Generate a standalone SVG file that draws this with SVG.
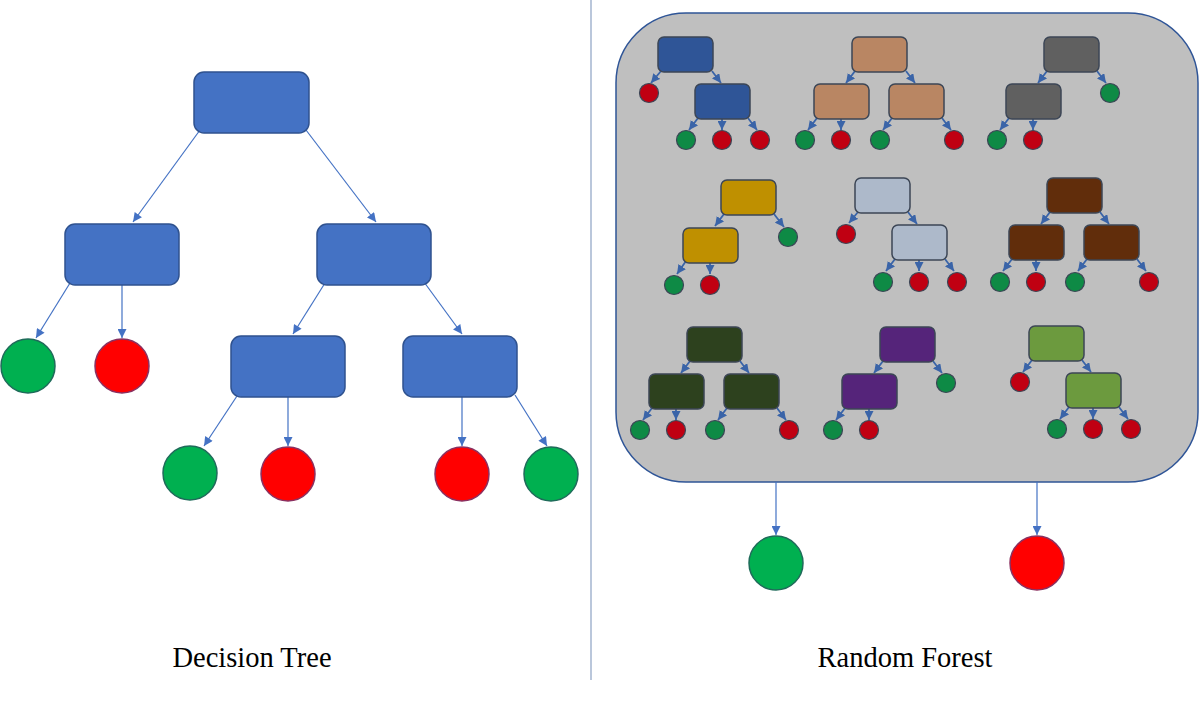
<svg xmlns="http://www.w3.org/2000/svg" width="1200" height="715" viewBox="0 0 1200 715">
<style>
.big{fill:#4472C4;stroke:#2F528F;stroke-width:1.5}
.gleaf{fill:#00B050;stroke:#1F6B5A;stroke-width:1.5}
.rleaf{fill:#FF0000;stroke:#8B3060;stroke-width:1.5}
.ln{stroke:#4472C4;stroke-width:1.2;fill:none}
.sl{stroke:#3A64A8;stroke-width:1.8;fill:none}
.sr{stroke:#3C4656;stroke-width:1.5}
.sg{fill:#0E8A45;stroke:#3C4656;stroke-width:1.2}
.sred{fill:#C00012;stroke:#3C4656;stroke-width:1.2}
.lbl{font-family:"Liberation Serif","Times New Roman",serif;font-size:28.5px;fill:#000;text-anchor:middle}
</style>
<defs>
<marker id="ah" viewBox="0 0 10 10" refX="10" refY="5" markerWidth="10" markerHeight="9" markerUnits="userSpaceOnUse" orient="auto"><path d="M0,0 L10,5 L0,10 z" fill="#4472C4"/></marker>
<marker id="as" viewBox="0 0 10 10" refX="10" refY="5" markerWidth="9" markerHeight="9" markerUnits="userSpaceOnUse" orient="auto"><path d="M0,0 L10,5 L0,10 z" fill="#3A64A8"/></marker>
</defs>
<rect width="1200" height="715" fill="#fff"/>
<line x1="591" y1="0" x2="591" y2="680" stroke="#A3B5CF" stroke-width="1.5"/>

<g id="forest-box"><rect x="616" y="13" width="582" height="469" rx="70" fill="#BFBFBF" stroke="#2F5597" stroke-width="1.5"/></g>

<g id="connectors">
<g marker-end="url(#ah)" class="ln">
<line x1="200" y1="130" x2="133" y2="222"/>
<line x1="306" y1="130" x2="376" y2="222"/>
<line x1="70" y1="283" x2="36" y2="338"/>
<line x1="122" y1="285" x2="122" y2="338"/>
<line x1="325" y1="283" x2="293" y2="334"/>
<line x1="424" y1="282" x2="462" y2="334"/>
<line x1="237" y1="396" x2="204" y2="446"/>
<line x1="288" y1="397" x2="288" y2="446"/>
<line x1="462" y1="397" x2="462" y2="446"/>
<line x1="515" y1="395" x2="547" y2="446"/>
<line x1="776" y1="482" x2="776" y2="535"/>
<line x1="1037" y1="482" x2="1037" y2="535"/>
</g>
<g marker-end="url(#as)" class="sl">
<line x1="661" y1="71" x2="651" y2="83"/><line x1="712" y1="71" x2="721" y2="83"/>
<line x1="698" y1="118" x2="689" y2="130"/><line x1="722" y1="119" x2="722" y2="130"/><line x1="748" y1="118" x2="757" y2="130"/>
<line x1="855" y1="71" x2="846" y2="83"/><line x1="906" y1="71" x2="915" y2="83"/>
<line x1="817" y1="118" x2="808" y2="130"/><line x1="841" y1="119" x2="841" y2="130"/>
<line x1="892" y1="118" x2="883" y2="130"/><line x1="942" y1="118" x2="951" y2="130"/>
<line x1="1047" y1="71" x2="1038" y2="83"/><line x1="1097" y1="71" x2="1106" y2="83"/>
<line x1="1009" y1="118" x2="1000" y2="130"/><line x1="1033" y1="119" x2="1033" y2="130"/>
<line x1="724" y1="214" x2="715" y2="226"/><line x1="774" y1="214" x2="784" y2="227"/>
<line x1="686" y1="261" x2="677" y2="274"/><line x1="710" y1="262" x2="710" y2="274"/>
<line x1="858" y1="212" x2="849" y2="223"/><line x1="908" y1="212" x2="917" y2="224"/>
<line x1="895" y1="259" x2="886" y2="271"/><line x1="919" y1="260" x2="919" y2="271"/><line x1="945" y1="259" x2="954" y2="271"/>
<line x1="1050" y1="212" x2="1041" y2="224"/><line x1="1100" y1="212" x2="1109" y2="224"/>
<line x1="1012" y1="259" x2="1003" y2="271"/><line x1="1036" y1="260" x2="1036" y2="271"/>
<line x1="1087" y1="259" x2="1078" y2="271"/><line x1="1137" y1="259" x2="1146" y2="271"/>
<line x1="690" y1="361" x2="681" y2="373"/><line x1="740" y1="361" x2="749" y2="373"/>
<line x1="652" y1="408" x2="643" y2="420"/><line x1="676" y1="409" x2="676" y2="420"/>
<line x1="727" y1="408" x2="718" y2="420"/><line x1="777" y1="408" x2="786" y2="420"/>
<line x1="883" y1="361" x2="874" y2="373"/><line x1="933" y1="361" x2="942" y2="373"/>
<line x1="845" y1="408" x2="836" y2="420"/><line x1="869" y1="409" x2="869" y2="420"/>
<line x1="1032" y1="360" x2="1023" y2="372"/><line x1="1082" y1="360" x2="1091" y2="372"/>
<line x1="1069" y1="407" x2="1060" y2="419"/><line x1="1093" y1="408" x2="1093" y2="419"/><line x1="1119" y1="407" x2="1128" y2="419"/>
</g>
</g>

<g id="decision-tree">
<g id="dt-root"><rect class="big" x="194" y="72" width="115" height="61" rx="10"/></g>
<g id="dt-l1a"><rect class="big" x="65" y="224" width="114" height="61" rx="10"/></g>
<g id="dt-l1b"><rect class="big" x="317" y="224" width="114" height="61" rx="10"/></g>
<g id="dt-l2a"><rect class="big" x="231" y="336" width="114" height="61" rx="10"/></g>
<g id="dt-l2b"><rect class="big" x="403" y="336" width="114" height="61" rx="10"/></g>
<g id="dt-leaf1"><circle class="gleaf" cx="28" cy="366" r="27"/></g>
<g id="dt-leaf2"><circle class="rleaf" cx="122" cy="366" r="27"/></g>
<g id="dt-leaf3"><circle class="gleaf" cx="190" cy="473" r="27"/></g>
<g id="dt-leaf4"><circle class="rleaf" cx="288" cy="474" r="27"/></g>
<g id="dt-leaf5"><circle class="rleaf" cx="462" cy="474" r="27"/></g>
<g id="dt-leaf6"><circle class="gleaf" cx="551" cy="474" r="27"/></g>
</g>

<g id="rf-outputs">
<g id="rf-out-green"><circle class="gleaf" cx="776" cy="563" r="27"/></g>
<g id="rf-out-red"><circle class="rleaf" cx="1037" cy="563" r="27"/></g>
</g>

<g id="tree-a">
<rect class="sr" fill="#2F5597" x="658" y="37" width="55" height="35" rx="6"/>
<rect class="sr" fill="#2F5597" x="695" y="84" width="55" height="35" rx="6"/>
<circle class="sred" cx="649" cy="93" r="9.5"/>
<circle class="sg" cx="686" cy="140" r="9.5"/><circle class="sred" cx="722" cy="140" r="9.5"/><circle class="sred" cx="760" cy="140" r="9.5"/>
</g>
<g id="tree-b">
<rect class="sr" fill="#B98663" x="852" y="37" width="55" height="35" rx="6"/>
<rect class="sr" fill="#B98663" x="814" y="84" width="55" height="35" rx="6"/>
<rect class="sr" fill="#B98663" x="889" y="84" width="55" height="35" rx="6"/>
<circle class="sg" cx="805" cy="140" r="9.5"/><circle class="sred" cx="841" cy="140" r="9.5"/>
<circle class="sg" cx="880" cy="140" r="9.5"/><circle class="sred" cx="954" cy="140" r="9.5"/>
</g>
<g id="tree-c">
<rect class="sr" fill="#606060" x="1044" y="37" width="55" height="35" rx="6"/>
<rect class="sr" fill="#606060" x="1006" y="84" width="55" height="35" rx="6"/>
<circle class="sg" cx="1110" cy="93" r="9.5"/>
<circle class="sg" cx="997" cy="140" r="9.5"/><circle class="sred" cx="1033" cy="140" r="9.5"/>
</g>
<g id="tree-d">
<rect class="sr" fill="#BF9000" x="721" y="180" width="55" height="35" rx="6"/>
<rect class="sr" fill="#BF9000" x="683" y="228" width="55" height="35" rx="6"/>
<circle class="sg" cx="788" cy="237" r="9.5"/>
<circle class="sg" cx="674" cy="285" r="9.5"/><circle class="sred" cx="710" cy="285" r="9.5"/>
</g>
<g id="tree-e">
<rect class="sr" fill="#ADB9CA" x="855" y="178" width="55" height="35" rx="6"/>
<rect class="sr" fill="#ADB9CA" x="892" y="225" width="55" height="35" rx="6"/>
<circle class="sred" cx="846" cy="234" r="9.5"/>
<circle class="sg" cx="883" cy="282" r="9.5"/><circle class="sred" cx="919" cy="282" r="9.5"/><circle class="sred" cx="957" cy="282" r="9.5"/>
</g>
<g id="tree-f">
<rect class="sr" fill="#612D0B" x="1047" y="178" width="55" height="35" rx="6"/>
<rect class="sr" fill="#612D0B" x="1009" y="225" width="55" height="35" rx="6"/>
<rect class="sr" fill="#612D0B" x="1084" y="225" width="55" height="35" rx="6"/>
<circle class="sg" cx="1000" cy="282" r="9.5"/><circle class="sred" cx="1036" cy="282" r="9.5"/>
<circle class="sg" cx="1075" cy="282" r="9.5"/><circle class="sred" cx="1149" cy="282" r="9.5"/>
</g>
<g id="tree-g">
<rect class="sr" fill="#2D411E" x="687" y="327" width="55" height="35" rx="6"/>
<rect class="sr" fill="#2D411E" x="649" y="374" width="55" height="35" rx="6"/>
<rect class="sr" fill="#2D411E" x="724" y="374" width="55" height="35" rx="6"/>
<circle class="sg" cx="640" cy="430" r="9.5"/><circle class="sred" cx="676" cy="430" r="9.5"/>
<circle class="sg" cx="715" cy="430" r="9.5"/><circle class="sred" cx="789" cy="430" r="9.5"/>
</g>
<g id="tree-h">
<rect class="sr" fill="#55247A" x="880" y="327" width="55" height="35" rx="6"/>
<rect class="sr" fill="#55247A" x="842" y="374" width="55" height="35" rx="6"/>
<circle class="sg" cx="946" cy="383" r="9.5"/>
<circle class="sg" cx="833" cy="430" r="9.5"/><circle class="sred" cx="869" cy="430" r="9.5"/>
</g>
<g id="tree-i">
<rect class="sr" fill="#6C9A3E" x="1029" y="326" width="55" height="35" rx="6"/>
<rect class="sr" fill="#6C9A3E" x="1066" y="373" width="55" height="35" rx="6"/>
<circle class="sred" cx="1020" cy="382" r="9.5"/>
<circle class="sg" cx="1057" cy="429" r="9.5"/><circle class="sred" cx="1093" cy="429" r="9.5"/><circle class="sred" cx="1131" cy="429" r="9.5"/>
</g>

<text class="lbl" x="252" y="667">Decision Tree</text>
<text class="lbl" x="905" y="667">Random Forest</text>
</svg>
